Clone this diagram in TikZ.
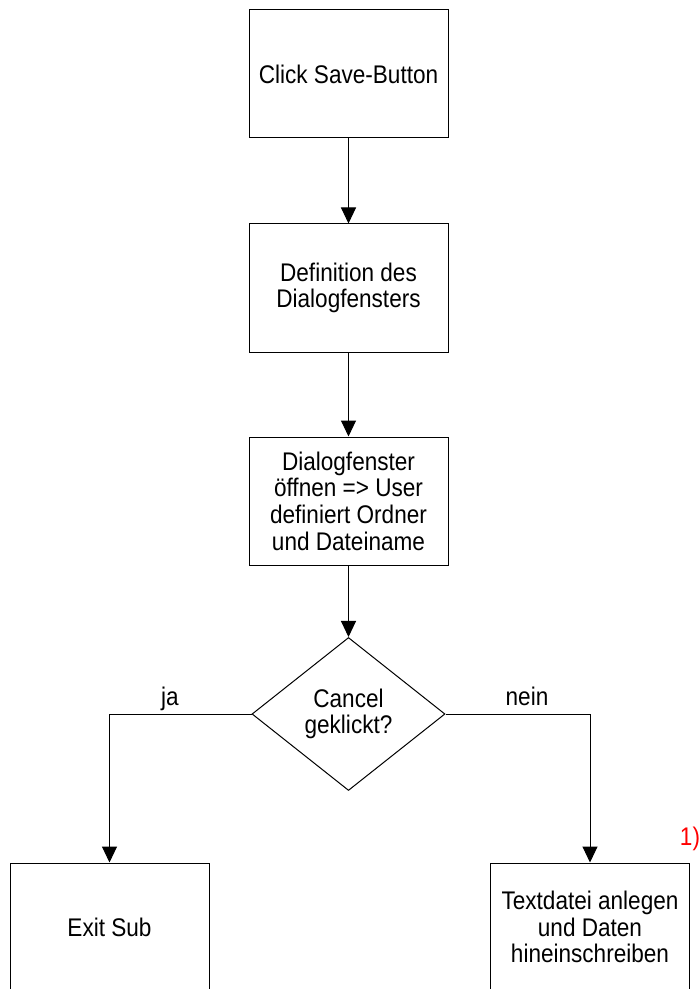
\documentclass[tikz,border=0pt]{standalone}
\usepackage{fontspec}
\setmainfont{Liberation Sans}[FakeStretch=0.885]
\usepackage{tikz}
\usetikzlibrary{arrows.meta,shapes.geometric}
\tikzset{>={Triangle[width=7.5pt,length=8pt]}}
\tikzset{
  procbox/.style={draw, minimum width=99.5pt, minimum height=64pt, inner sep=0pt, align=center},
  decision/.style={draw, diamond, minimum width=96.5pt, minimum height=76.5pt, inner sep=0pt, align=center},
  branchlabel/.style={anchor=base, inner sep=0pt},
}

\begin{document}
\begin{tikzpicture}[x=0.5pt, y=-0.5pt, line width=0.5pt, font=\fontsize{12.75}{13.35}\selectfont]

  \useasboundingbox (0,0) rectangle (700,989);

  % Ablauf oben
  \node[procbox] (click) at (348.5, 74) {Click Save-Button};
  \node[procbox] (define) at (348.5, 288) {Definition des\\Dialogfensters};
  \node[procbox] (dialog) at (348.5, 501) {Dialogfenster\\öffnen => User\\definiert Ordner\\und Dateiname};

  % Entscheidung
  \node[decision] (cancel) at (348.5, 714) {Cancel\\geklickt?};

  % Zweige
  \node[procbox] (exitsub) at (109.5, 927) {Exit Sub};
  \node[procbox] (writefile) at (590, 927) {Textdatei anlegen\\und Daten\\hineinschreiben};

  \draw[->] (click) -- (define);
  \draw[->] (define) -- (dialog);
  \draw[->] (dialog) -- (cancel);

  \draw[->] (cancel.west) -| (exitsub.north);
  \draw[->] (cancel.east) -| (writefile.north);

  \node[branchlabel] (ja) at (170, 705) {ja};
  \node[branchlabel] (nein) at (527, 705) {nein};
%  \node (note) at (690, 839) {1)};
  \node[text=red, inner sep=0pt] (note) at (690, 839) {1)};

\end{tikzpicture}
\end{document}
